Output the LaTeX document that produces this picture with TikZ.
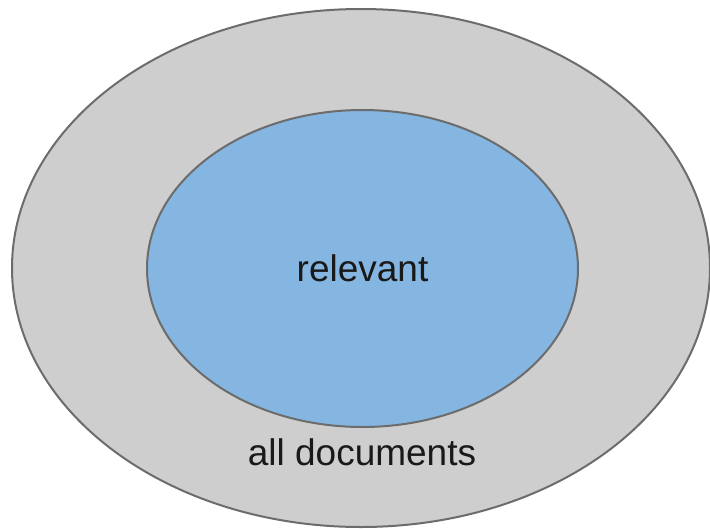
\documentclass[tikz,border=0pt]{standalone}
\usepackage{fontspec}
\setmainfont{Liberation Sans}
\usetikzlibrary{shapes.geometric,positioning}
\definecolor{setgray}{HTML}{CDCECD}
\definecolor{setblue}{HTML}{85B6E2}
\definecolor{setline}{HTML}{6C6C6C}
\tikzset{
	setbox/.style={ellipse,draw=setline,line width=2pt,inner sep=0pt},
	setlabel/.style={font=\fontsize{37}{44}\selectfont, text=black!90}
}

\begin{document}
\begin{tikzpicture}[x=1pt,y=-1pt]
		\useasboundingbox (0,0) rectangle (710,528);
		
		\node [setbox,fill=setgray,minimum width=698pt,minimum height=518pt] (alldocs) at (361, 268) {};
		\node [setbox,fill=setblue,minimum width=431pt,minimum height=317pt] (relevant) at (362.5, 268.5) {};
		
		\node [setlabel] (relevanttext) at (relevant.center) {relevant};
		\node [setlabel] (alltext) at (362, 452) {all documents};
		
	\end{tikzpicture}
\end{document}
